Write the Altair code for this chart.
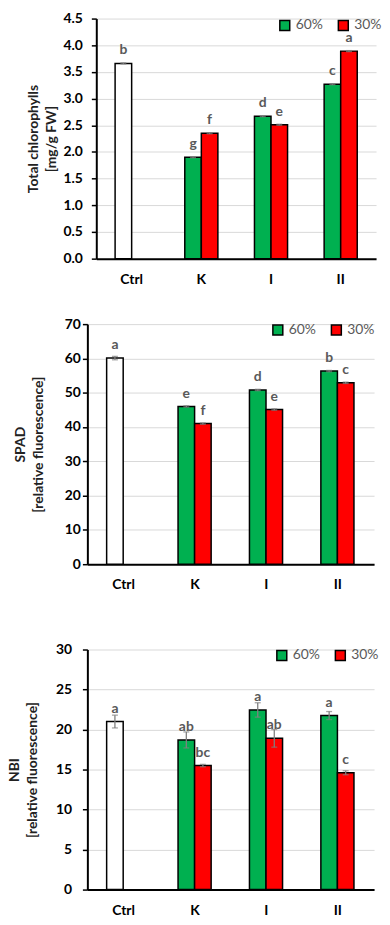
import altair as alt
import pandas as pd

# ---- data ----
categories = ["Ctrl", "K", "I", "II"]
bar_category = ["Ctrl", "K", "K", "I", "I", "II", "II"]
bar_series = ["Ctrl", "60%", "30%", "60%", "30%", "60%", "30%"]
bar_slot = ["60%", "60%", "30%", "60%", "30%", "60%", "30%"]

chl_values = [3.66, 1.90, 2.35, 2.67, 2.51, 3.27, 3.89]
chl_err = [0.01, 0.01, 0.01, 0.01, 0.01, 0.01, 0.01]
chl_letters = ["b", "g", "f", "d", "e", "c", "a"]

spad_values = [60.1, 46.0, 41.0, 50.8, 45.1, 56.3, 52.9]
spad_err = [0.5, 0.2, 0.2, 0.2, 0.2, 0.2, 0.2]
spad_letters = ["a", "e", "f", "d", "e", "b", "c"]

nbi_values = [21.0, 18.7, 15.5, 22.45, 18.9, 21.75, 14.6]
nbi_err = [0.8, 1.0, 0.15, 0.9, 1.1, 0.5, 0.25]
nbi_letters = ["a", "ab", "bc", "a", "ab", "a", "c"]

legend_values = ["60%", "30%"]
fill_domain = ["Ctrl", "60%", "30%"]
fill_range = ["white", "#00B050", "#FF0000"]

FONT = "Lato"
H = 242


def panel(values, err, letters, ymax, ticks, fmt, title, extent, title_pad,
          label_pad, legend_x, legend_y, width, shift=0):
    df = pd.DataFrame({
        "cat": bar_category, "series": bar_series, "slot": bar_slot,
        "value": values,
        "lo": [v - e for v, e in zip(values, err)],
        "hi": [v + e for v, e in zip(values, err)],
        "letter": letters,
    })
    xscale_args = dict(domain=categories, paddingInner=0.525, paddingOuter=0.27)
    if shift:
        xscale_args["range"] = [shift, width]
    x = alt.X("cat:N", sort=categories,
              scale=alt.Scale(**xscale_args),
              axis=alt.Axis(title=None, labelAngle=0, ticks=False, grid=False,
                            domainColor="black", domainWidth=2,
                            labelFont=FONT, labelFontWeight="bold", labelFontSize=14,
                            labelColor="black", labelPadding=14))
    xo = alt.XOffset("slot:N", sort=legend_values,
                     scale=alt.Scale(domain=legend_values, paddingInner=0, paddingOuter=0))
    yscale = alt.Scale(domain=[0, ymax], nice=False)
    axis_args = dict(values=ticks, format=fmt, grid=True, gridColor="#d9d9d9", gridWidth=1,
                     domainColor="black", domainWidth=2, tickColor="black",
                     tickSize=5, tickWidth=1.5, labelPadding=label_pad, labelOverlap=False,
                     labelFont=FONT, labelFontWeight="bold", labelFontSize=14,
                     labelColor="black", title=title, titleFont=FONT,
                     titleFontWeight="bold", titleFontSize=14, titleColor="#222222",
                     titleLineHeight=18, titlePadding=title_pad,
                     minExtent=extent, maxExtent=extent)
    if shift:
        axis_args["offset"] = -shift
    yaxis = alt.Axis(**axis_args)
    base = alt.Chart(df)
    bars = base.mark_bar(stroke="black", strokeWidth=1.5).encode(
        x=x, xOffset=xo,
        y=alt.Y("value:Q", scale=yscale, axis=yaxis),
        fill=alt.Fill("series:N", scale=alt.Scale(domain=fill_domain, range=fill_range),
                      legend=alt.Legend(orient="none", legendX=legend_x, legendY=legend_y,
                                        direction="horizontal", title=None,
                                        values=legend_values, symbolType="square",
                                        symbolSize=100, symbolStrokeColor="black",
                                        symbolStrokeWidth=1.5, symbolOpacity=1,
                                        labelFont=FONT, labelFontSize=14,
                                        labelColor="#595959", labelOffset=4,
                                        columnPadding=12, padding=0)),
    )
    rule = base.mark_rule(color="#7f7f7f", strokeWidth=1.3).encode(
        x=x, xOffset=xo, y=alt.Y("lo:Q", scale=yscale, axis=yaxis), y2="hi:Q")
    cap_lo = base.mark_tick(color="#7f7f7f", thickness=1.3, size=6).encode(
        x=x, xOffset=xo, y=alt.Y("lo:Q", scale=yscale, axis=yaxis))
    cap_hi = base.mark_tick(color="#7f7f7f", thickness=1.3, size=6).encode(
        x=x, xOffset=xo, y=alt.Y("hi:Q", scale=yscale, axis=yaxis))
    text = base.mark_text(dy=-9, baseline="alphabetic", font=FONT, fontWeight="bold",
                          fontSize=14, color="#595959").encode(
        x=x, xOffset=xo, y=alt.Y("value:Q", scale=yscale, axis=yaxis), text="letter:N")
    return alt.layer(bars, rule, cap_lo, cap_hi, text).properties(width=width, height=H)


p1 = panel(chl_values, chl_err, chl_letters, 4.5,
           [0, 0.5, 1, 1.5, 2, 2.5, 3, 3.5, 4, 4.5], ".1f",
           ["Total chlorophylls", "[mg/g FW]"], 34, 4, 9, 192, 0, 291, shift=9)
p2 = panel(spad_values, spad_err, spad_letters, 70,
           [0, 10, 20, 30, 40, 50, 60, 70], "d",
           ["SPAD", "[relative fluorescence]"], 22, 20, 2, 185, -1, 289)
p3 = panel(nbi_values, nbi_err, nbi_letters, 30,
           [0, 5, 10, 15, 20, 25, 30], "d",
           ["NBI", "[relative fluorescence]"], 33, 15, 11, 189, -1, 289)

top = alt.vconcat(p1, p2, spacing=31).resolve_scale(fill="independent").resolve_legend(fill="independent")
chart = alt.vconcat(top, p3, spacing=51).resolve_scale(fill="independent").resolve_legend(
    fill="independent"
).properties(
    padding={"left": 0, "top": 0, "right": 0, "bottom": 0},
    background="white",
).configure_view(stroke=None)

chart.save("out.html", embed_options={"renderer": "svg", "actions": False})
